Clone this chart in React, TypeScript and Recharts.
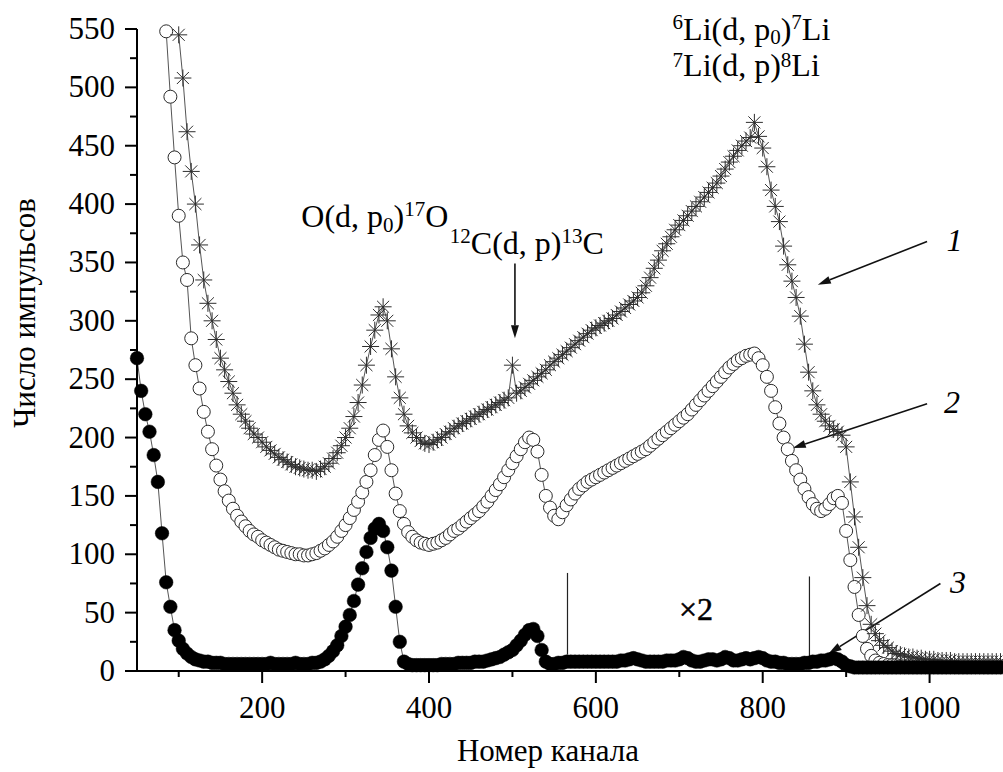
import { ComposedChart, Line, XAxis, YAxis, ReferenceLine, ReferenceDot } from 'recharts'

// channel numbers (x), one row = 50 channels
const channels = [
  50, 55, 60, 65, 70, 75, 80, 85, 90, 95,
  100, 105, 110, 115, 120, 125, 130, 135, 140, 145,
  150, 155, 160, 165, 170, 175, 180, 185, 190, 195,
  200, 205, 210, 215, 220, 225, 230, 235, 240, 245,
  250, 255, 260, 265, 270, 275, 280, 285, 290, 295,
  300, 305, 310, 315, 320, 325, 330, 335, 340, 345,
  350, 355, 360, 365, 370, 375, 380, 385, 390, 395,
  400, 405, 410, 415, 420, 425, 430, 435, 440, 445,
  450, 455, 460, 465, 470, 475, 480, 485, 490, 495,
  500, 505, 510, 515, 520, 525, 530, 535, 540, 545,
  550, 555, 560, 565, 570, 575, 580, 585, 590, 595,
  600, 605, 610, 615, 620, 625, 630, 635, 640, 645,
  650, 655, 660, 665, 670, 675, 680, 685, 690, 695,
  700, 705, 710, 715, 720, 725, 730, 735, 740, 745,
  750, 755, 760, 765, 770, 775, 780, 785, 790, 795,
  800, 805, 810, 815, 820, 825, 830, 835, 840, 845,
  850, 855, 860, 865, 870, 875, 880, 885, 890, 895,
  900, 905, 910, 915, 920, 925, 930, 935, 940, 945,
  950, 955, 960, 965, 970, 975, 980, 985, 990, 995,
  1000, 1005, 1010, 1015, 1020, 1025, 1030, 1035, 1040, 1045,
  1050, 1055, 1060, 1065, 1070, 1075, 1080, 1085,
]

// curve 1 (asterisks)
const curve1 = [
  null, null, null, null, null, null, null, null, null, null,
  545, 508, 462, 428, 400, 365, 335, 315, 300, 284,
  268, 258, 248, 238, 228, 220, 214, 208, 203, 200,
  196, 192, 189, 186, 183, 181, 179, 177, 175, 174,
  173, 172, 172, 171, 173, 175, 178, 182, 187, 193,
  200, 208, 218, 230, 245, 262, 278, 292, 305, 312,
  300, 276, 252, 234, 220, 210, 204, 200, 197, 195,
  194, 196, 198, 200, 203, 205, 208, 210, 212, 214,
  216, 218, 220, 222, 224, 226, 228, 230, 232, 234,
  262, 238, 240, 243, 246, 249, 252, 255, 258, 262,
  265, 268, 271, 274, 277, 280, 283, 286, 289, 292,
  294, 296, 298, 300, 302, 305, 308, 311, 314, 317,
  320, 324, 330, 337, 345, 352, 360, 366, 372, 378,
  382, 386, 390, 394, 398, 402, 406, 410, 414, 418,
  424, 430, 436, 441, 446, 450, 454, 457, 470, 458,
  448, 432, 412, 398, 385, 364, 348, 334, 320, 304,
  280, 256, 240, 228, 220, 214, 210, 207, 205, 202,
  192, 162, 132, 106, 80, 56, 40, 32, 26, 22,
  20, 17, 15, 14, 13, 12, 12, 11, 11, 10,
  10, 10, 9, 9, 9, 9, 8, 8, 8, 8,
  8, 8, 8, 8, 8, 8, 8, 8,
]

// curve 2 (open circles)
const curve2 = [
  null, null, null, null, null, null, null, 548, 492, 440,
  390, 350, 335, 285, 262, 242, 222, 205, 190, 176,
  164, 154, 146, 139, 133, 128, 124, 120, 117, 115,
  112, 110, 108, 106, 104, 103, 102, 101, 100, 100,
  99, 99, 100, 101, 103, 105, 108, 111, 115, 120,
  125, 131, 138, 145, 153, 162, 172, 185, 198, 206,
  192, 172, 152, 137, 126, 119, 115, 112, 110, 109,
  108, 109, 110, 112, 114, 117, 120, 122, 125, 128,
  131, 134, 137, 141, 145, 150, 155, 160, 166, 172,
  178, 184, 190, 196, 200, 198, 188, 168, 150, 140,
  133, 130, 136, 142, 147, 152, 156, 159, 162, 164,
  166, 168, 170, 172, 174, 176, 178, 180, 182, 184,
  186, 188, 190, 193, 196, 199, 202, 205, 208, 211,
  214, 217, 220, 224, 228, 232, 236, 240, 244, 248,
  252, 256, 260, 263, 266, 268, 270, 271, 272, 268,
  262, 252, 240, 226, 212, 200, 190, 180, 172, 164,
  156, 149, 143, 139, 137, 139, 143, 148, 150, 144,
  120, 95, 72, 48, 30, 19, 13, 9, 7, 6,
  5, 5, 5, 4, 4, 4, 4, 4, 4, 4,
  4, 4, 4, 4, 4, 4, 4, 4, 4, 4,
  4, 4, 4, 4, 4, 4, 4, 4,
]

// curve 3 (filled circles)
const curve3 = [
  268, 240, 220, 205, 185, 162, 118, 76, 55, 35,
  26, 19, 15, 12, 10, 9, 8, 8, 7, 7,
  7, 6, 6, 6, 6, 6, 6, 6, 6, 6,
  6, 6, 7, 6, 6, 6, 6, 6, 7, 6,
  6, 6, 7, 7, 8, 10, 13, 17, 22, 30,
  38, 48, 60, 74, 88, 102, 114, 122, 126, 120,
  106, 86, 55, 25, 8, 6, 5, 5, 5, 5,
  5, 5, 5, 6, 6, 6, 6, 7, 7, 7,
  7, 8, 8, 8, 9, 10, 11, 12, 14, 16,
  18, 22, 26, 31, 35, 36, 30, 18, 8, 6,
  6, 7, 7, 8, 8, 8, 8, 8, 8, 8,
  8, 8, 8, 8, 8, 8, 9, 9, 10, 11,
  10, 9, 8, 8, 8, 8, 8, 9, 9, 9,
  10, 12, 11, 9, 8, 8, 9, 10, 10, 9,
  10, 12, 11, 9, 9, 10, 11, 10, 11, 12,
  11, 9, 8, 8, 7, 7, 6, 6, 6, 6,
  7, 7, 8, 8, 9, 9, 10, 11, 10, 8,
  5, 4, 3, 3, 3, 3, 3, 3, 3, 3,
  3, 3, 3, 3, 3, 3, 3, 3, 3, 3,
  3, 3, 3, 3, 3, 3, 3, 3, 3, 3,
  3, 3, 3, 3, 3, 3, 3, 3,
]

const xTicks = [100, 200, 300, 400, 500, 600, 700, 800, 900, 1000]
const yTicks = [0, 25, 50, 75, 100, 125, 150, 175, 200, 225, 250, 275, 300, 325, 350, 375, 400, 425, 450, 475, 500, 525, 550]

// arrows: [channel, counts] tail -> head
const arrows = [
  { from: [503, 349], to: [503, 285] },
  { from: [997, 368], to: [866, 331] },
  { from: [997, 229], to: [836, 191] },
  { from: [1013, 75], to: [879, 15] },
]
// the x2 zone marks
const zoneMarks = [
  { ch: 566, top: 84, bottom: 14 },
  { ch: 856, top: 81, bottom: 11 },
]

const data = channels.map((ch, i) => ({ ch, s1: curve1[i], s2: curve2[i], s3: curve3[i] }))

const FONT = '"Liberation Serif", "Times New Roman", serif'
const FS = 31
const AFS = 32
const SUB = 21
const txt = { fontFamily: FONT }

const Asterisk = (p: any) => {
  const { cx, cy, index } = p
  if (cx == null || cy == null) return <g key={index} />
  const r = 8.5
  const d = r * 0.7071
  return (
    <path
      key={index}
      d={`M${cx - r},${cy}H${cx + r}M${cx},${cy - r}V${cy + r}M${cx - d},${cy - d}L${cx + d},${cy + d}M${cx - d},${cy + d}L${cx + d},${cy - d}`}
      stroke="#2e2e2e"
      strokeWidth={1}
      fill="none"
    />
  )
}

const OpenDot = (p: any) => {
  const { cx, cy, index } = p
  if (cx == null || cy == null) return <g key={index} />
  return <circle key={index} cx={cx} cy={cy} r={6.5} fill="#fff" stroke="#2a2a2a" strokeWidth={1} />
}

const FilledDot = (p: any) => {
  const { cx, cy, index } = p
  if (cx == null || cy == null) return <g key={index} />
  return <circle key={index} cx={cx} cy={cy} r={6.8} fill="#000" stroke="#000" strokeWidth={0.5} />
}

const XTick = ({ x, y, payload }: any) => {
  const major = payload.value % 200 === 0
  return (
    <g>
      <line x1={x} x2={x} y1={y} y2={y + (major ? 12 : 6)} stroke="#000" strokeWidth={2} />
      {major && (
        <text x={x} y={y + 47} textAnchor="middle" style={txt} fontSize={FS} fill="#000">
          {payload.value}
        </text>
      )}
    </g>
  )
}

const YTick = ({ x, y, payload }: any) => {
  const major = payload.value % 50 === 0
  return (
    <g>
      <line x1={x} x2={x - (major ? 12 : 7)} y1={y} y2={y} stroke="#000" strokeWidth={2} />
      {major && (
        <text x={x - 22} y={y + 10} textAnchor="end" style={txt} fontSize={FS} fill="#000">
          {payload.value}
        </text>
      )}
    </g>
  )
}

const XTitle = ({ viewBox }: any) => (
  <text x={viewBox.x + viewBox.width / 2 - 22} y={viewBox.y + 90} textAnchor="middle" style={txt} fontSize={FS} fill="#000">
    Номер канала
  </text>
)

const YTitle = ({ viewBox }: any) => {
  const cx = viewBox.x + 35
  const cy = viewBox.y + viewBox.height / 2 - 37
  return (
    <text x={cx} y={cy} transform={`rotate(-90 ${cx} ${cy})`} textAnchor="middle" style={txt} fontSize={FS} fill="#000">
      Число импульсов
    </text>
  )
}

const Arrow = (p: any) => {
  const { x1, y1, x2, y2 } = p
  const ang = Math.atan2(y2 - y1, x2 - x1)
  const len = 13
  const w = 4
  const bx = x2 - len * Math.cos(ang)
  const by = y2 - len * Math.sin(ang)
  const nx = -Math.sin(ang) * w
  const ny = Math.cos(ang) * w
  return (
    <g>
      <line x1={x1} y1={y1} x2={bx} y2={by} stroke="#111" strokeWidth={1.6} />
      <polygon points={`${x2},${y2} ${bx + nx},${by + ny} ${bx - nx},${by - ny}`} fill="#111" />
    </g>
  )
}

const Thin = (p: any) => <line x1={p.x1} y1={p.y1} x2={p.x2} y2={p.y2} stroke="#222" strokeWidth={1.2} />

const textShape = (content: any, opts: any = {}) => (p: any) => (
  <text
    x={p.cx}
    y={p.cy}
    style={txt}
    fontSize={AFS}
    fill="#000"
    textAnchor={opts.anchor || 'start'}
    fontStyle={opts.italic ? 'italic' : 'normal'}
    stroke={opts.bold ? '#000' : 'none'}
    strokeWidth={opts.bold ? 0.5 : 0}
  >
    {content}
  </text>
)

export default function App() {
  return (
    <div style={{ position: 'absolute', left: 0, top: 0, width: 1003, height: 772, background: '#fff', fontFamily: FONT }}>
      <ComposedChart width={1003} height={772} data={data} margin={{ top: 29, right: 0, bottom: 0, left: 0 }}>
        <XAxis
          type="number"
          dataKey="ch"
          domain={[50, 1088]}
          ticks={xTicks}
          interval={0}
          height={101}
          tickSize={0}
          tickMargin={0}
          tickLine={false}
          tick={<XTick />}
          axisLine={{ stroke: '#000', strokeWidth: 2 }}
          label={<XTitle />}
        />
        <YAxis
          type="number"
          domain={[0, 550]}
          ticks={yTicks}
          interval={0}
          width={137}
          tickSize={0}
          tickMargin={0}
          tickLine={false}
          tick={<YTick />}
          axisLine={{ stroke: '#000', strokeWidth: 2 }}
          label={<YTitle />}
        />
        <Line dataKey="s2" stroke="#555" strokeWidth={1} dot={OpenDot} activeDot={false} isAnimationActive={false} connectNulls={false} />
        <Line dataKey="s1" stroke="#555" strokeWidth={1} dot={Asterisk} activeDot={false} isAnimationActive={false} connectNulls={false} />
        <Line dataKey="s3" stroke="#555" strokeWidth={1} dot={FilledDot} activeDot={false} isAnimationActive={false} connectNulls={false} />

        {zoneMarks.map((m, i) => (
          <ReferenceLine key={`z${i}`} segment={[{ x: m.ch, y: m.top }, { x: m.ch, y: m.bottom }]} shape={Thin} />
        ))}
        {arrows.map((a, i) => (
          <ReferenceLine key={`a${i}`} segment={[{ x: a.from[0], y: a.from[1] }, { x: a.to[0], y: a.to[1] }]} shape={Arrow} />
        ))}

        <ReferenceDot
          x={247}
          y={380}
          shape={textShape(
            <>
              O(d, p<tspan dy={5} fontSize={SUB}>0</tspan>
              <tspan dy={-5}>)</tspan>
              <tspan dy={-11} fontSize={SUB}>17</tspan>
              <tspan dy={11}>O</tspan>
            </>
          )}
        />
        <ReferenceDot
          x={425}
          y={357}
          shape={textShape(
            <>
              <tspan dy={-11} fontSize={SUB}>12</tspan>
              <tspan dy={11}>C(d, p)</tspan>
              <tspan dy={-11} fontSize={SUB}>13</tspan>
              <tspan dy={11}>C</tspan>
            </>
          )}
        />
        <ReferenceDot
          x={692}
          y={541}
          shape={textShape(
            <>
              <tspan dy={-11} fontSize={SUB}>6</tspan>
              <tspan dy={11}>Li(d, p</tspan>
              <tspan dy={4} fontSize={SUB}>0</tspan>
              <tspan dy={-4}>)</tspan>
              <tspan dy={-11} fontSize={SUB}>7</tspan>
              <tspan dy={11}>Li</tspan>
            </>
          )}
        />
        <ReferenceDot
          x={692}
          y={510}
          shape={textShape(
            <>
              <tspan dy={-9} fontSize={SUB}>7</tspan>
              <tspan dy={9}>Li(d, p)</tspan>
              <tspan dy={-9} fontSize={SUB}>8</tspan>
              <tspan dy={9}>Li</tspan>
            </>
          )}
        />
        <ReferenceDot x={1030} y={360} shape={textShape('1', { anchor: 'middle', italic: true })} />
        <ReferenceDot x={1027} y={221} shape={textShape('2', { anchor: 'middle', italic: true })} />
        <ReferenceDot x={1034} y={67} shape={textShape('3', { anchor: 'middle', italic: true })} />
        <ReferenceDot x={720} y={44} shape={textShape('×2', { anchor: 'middle', bold: true })} />
      </ComposedChart>
    </div>
  )
}
